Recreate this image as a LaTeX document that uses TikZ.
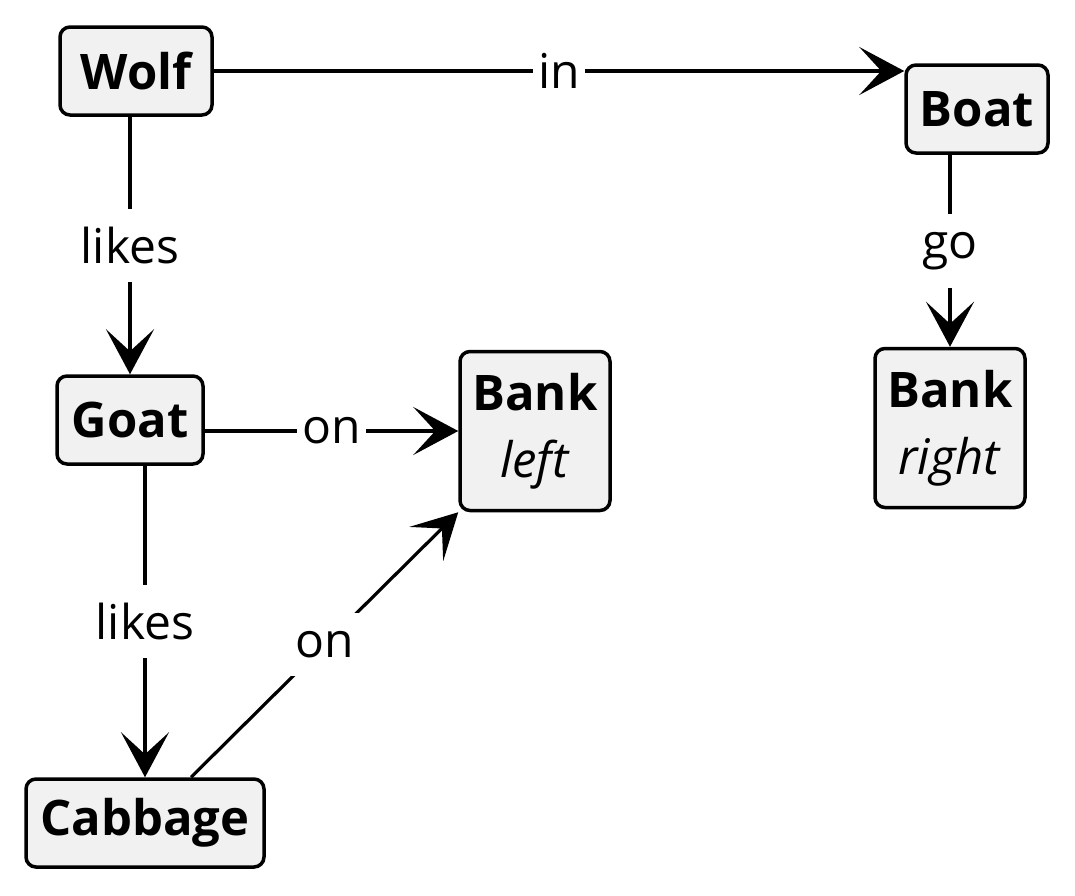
\documentclass[tikz,border=0pt]{standalone}
\usepackage{fontspec}
\setmainfont{Open Sans}
\usetikzlibrary{arrows.meta}
\definecolor{boxgray}{HTML}{F1F1F1}
\begin{document}
\begin{tikzpicture}[x=0.5pt,y=-0.5pt,
        obj/.style={draw,line width=1.75pt,rounded corners=5pt,fill=boxgray,align=center,
            minimum height=44pt,inner sep=0pt,font=\fontsize{24.5}{29}\selectfont\bfseries},
        rel/.style={line width=1.6pt,-{Stealth[length=22.5pt,width=24pt,inset=11pt]}},
        lbl/.style={fill=white,inner xsep=2.5pt,inner ysep=9pt,font=\fontsize{24}{29}\selectfont}]
                \useasboundingbox (0,0) rectangle (1075,895);
                \node[obj,minimum width=76pt] (wolf) at (136,71) {Wolf};
                \node[obj,minimum width=71pt] (boat) at (977,109) {Boat};
                \node[obj,minimum width=73pt] (goat) at (130,420) {Goat};
                \node[obj,minimum width=119pt] (cabbage) at (145,823) {Cabbage};
                \node[obj,minimum width=75pt,minimum height=79.5pt] (bankleft) at (535,431) {Bank\\[4.5pt]\textnormal{\textit{left}}};
                \node[obj,minimum width=75pt,minimum height=79.5pt] (bankright) at (950,428) {Bank\\[4.5pt]\textnormal{\textit{right}}};
                \draw[rel] (wolf.east) -- node[lbl]{in} (wolf.east -| boat.west);
                \draw[rel] (goat.north |- wolf.south) -- node[lbl]{likes} (goat.north);
                \draw[rel] (bankright.north |- boat.south) -- node[lbl]{go} (bankright.north);
                \draw[rel] (goat.east |- bankleft.west) -- node[lbl]{on} (bankleft.west);
                \draw[rel] (cabbage.north |- goat.south) -- node[lbl]{likes} (cabbage.north);
                \draw[rel] (cabbage) -- node[lbl]{on} (bankleft.south west);
            \end{tikzpicture}
\end{document}
